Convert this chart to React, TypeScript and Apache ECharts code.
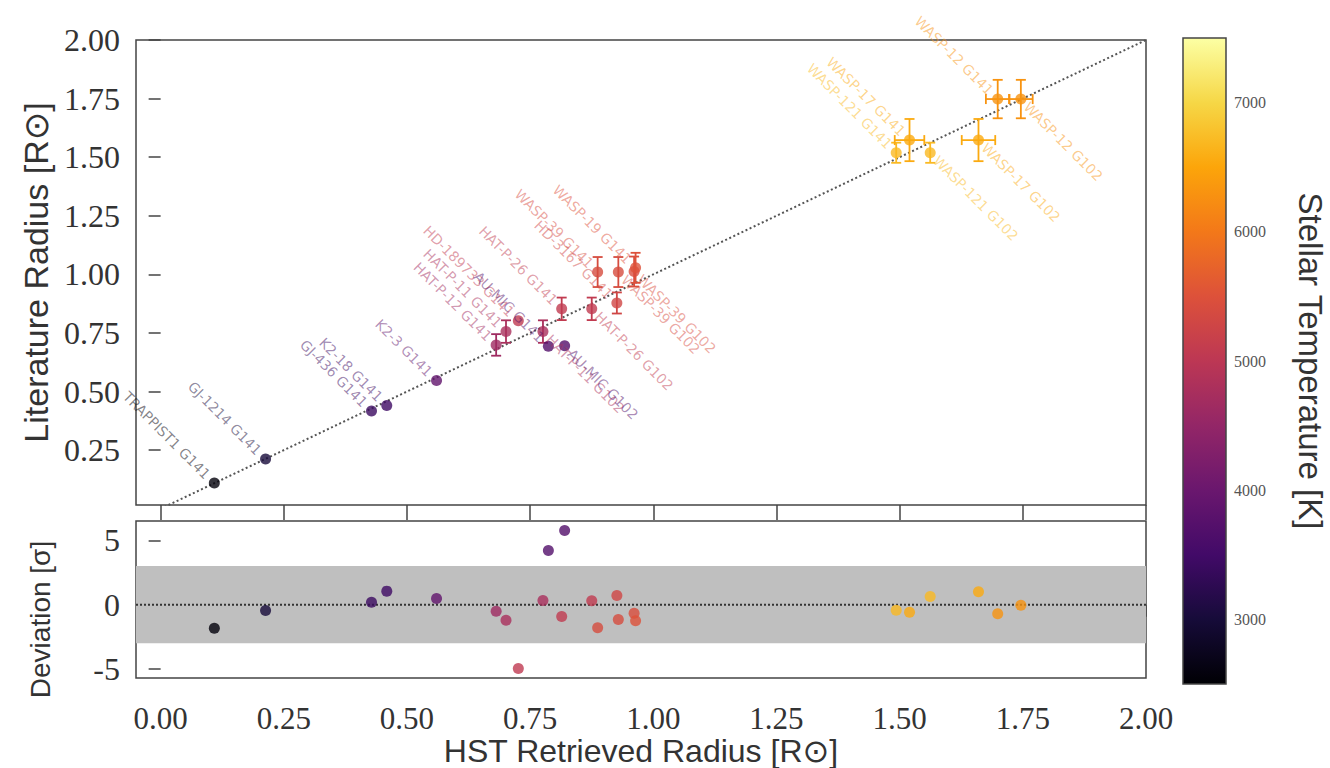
import React, { useEffect, useRef } from "react";
import * as echarts from "echarts";

// ---------------- data ----------------
const names = [
  "TRAPPIST1 G141", "GJ-1214 G141", "GJ-436 G141", "K2-18 G141", "K2-3 G141",
  "HAT-P-12 G141", "HAT-P-11 G141", "HD-189733 G141", "HAT-P-11 G102", "AU-MIC G141",
  "HAT-P-26 G141", "AU-MIC G102", "HAT-P-26 G102", "WASP-39 G141", "HD-3167 G141",
  "WASP-39 G102", "WASP-39 G102", "WASP-19 G141", "WASP-121 G141", "WASP-17 G141",
  "WASP-121 G102", "WASP-17 G102", "WASP-12 G141", "WASP-12 G102",
];
const hstRadius = [
  0.109, 0.213, 0.428, 0.459, 0.560,
  0.681, 0.701, 0.726, 0.776, 0.787,
  0.814, 0.820, 0.875, 0.887, 0.926,
  0.929, 0.961, 0.964, 1.493, 1.520,
  1.562, 1.660, 1.699, 1.746,
];
const litRadius = [
  0.110, 0.212, 0.417, 0.441, 0.547,
  0.699, 0.756, 0.802, 0.756, 0.693,
  0.853, 0.695, 0.853, 1.010, 0.878,
  1.010, 1.012, 1.028, 1.519, 1.573,
  1.519, 1.573, 1.748, 1.748,
];
const litErr = [
  0, 0, 0, 0, 0,
  0.046, 0.048, 0, 0.048, 0,
  0.048, 0, 0.048, 0.064, 0.045,
  0.064, 0.064, 0.064, 0.043, 0.09,
  0.043, 0.09, 0.082, 0.082,
];
const hstErr = [
  0, 0, 0, 0, 0,
  0, 0, 0, 0, 0,
  0, 0, 0, 0, 0,
  0, 0, 0, 0, 0.03,
  0, 0.034, 0.024, 0.024,
];
const deviation = [
  -1.84, -0.46, 0.18, 1.05, 0.48,
  -0.51, -1.22, -4.97, 0.33, 4.21,
  -0.92, 5.77, 0.31, -1.79, 0.71,
  -1.15, -0.66, -1.25, -0.43, -0.59,
  0.64, 1.0, -0.71, -0.05,
];
const stellarTemp = [
  2566, 3026, 3416, 3457, 3896,
  4650, 4780, 5050, 4780, 3700,
  5079, 3700, 5079, 5400, 5286,
  5400, 5450, 5500, 6700, 6550,
  6700, 6550, 6300, 6300,
];

const xTicks = [0, 0.25, 0.5, 0.75, 1.0, 1.25, 1.5, 1.75, 2.0];
const yTicks = [0.25, 0.5, 0.75, 1.0, 1.25, 1.5, 1.75, 2.0];
const devTicks = [-5, 0, 5];
const tempTicks = [3000, 4000, 5000, 6000, 7000];
const T_MIN = 2500;
const T_MAX = 7500;
const SIGMA_BAND = 3;

// ---------------- colormap ----------------
const INFERNO = [
  "#000004", "#160b39", "#420a68", "#6a176e", "#932667", "#bc3754",
  "#dd513a", "#f37819", "#fca50a", "#f6d746", "#fcffa4",
];
function hexRgb(h: string) {
  return [parseInt(h.slice(1, 3), 16), parseInt(h.slice(3, 5), 16), parseInt(h.slice(5, 7), 16)];
}
function inferno(t: number, a = 1) {
  const tt = Math.max(0, Math.min(1, t)) * (INFERNO.length - 1);
  const i = Math.min(INFERNO.length - 2, Math.floor(tt));
  const f = tt - i;
  const c0 = hexRgb(INFERNO[i]);
  const c1 = hexRgb(INFERNO[i + 1]);
  const c = c0.map((v, k) => Math.round(v + (c1[k] - v) * f));
  return `rgba(${c[0]},${c[1]},${c[2]},${a})`;
}
const tempColor = (T: number, a = 1) => inferno((T - T_MIN) / (T_MAX - T_MIN), a);

// ---------------- layout ----------------
const GL = 136;
const GW = 1010;
const TOP1 = 40;
const H1 = 465;
const TOP2 = 521;
const H2 = 157;
const CB = { x: 1183, y: 38, w: 43, h: 646 };
const AX = "#444";
const SERIF = "'Liberation Serif', serif";
const SANS = "'Liberation Sans', 'DejaVu Sans', sans-serif";

export default function App() {
  const ref = useRef<HTMLDivElement>(null);
  useEffect(() => {
    const chart = echarts.init(ref.current!, undefined, { renderer: "svg" });
    const colors = stellarTemp.map((t) => tempColor(t));

    const topPoints = hstRadius.map((x, i) => {
      const g102 = names[i].indexOf("G102") >= 0;
      return {
        value: [x, litRadius[i]],
        itemStyle: { color: colors[i] },
        label: {
          show: true,
          formatter: names[i],
          rotate: -45,
          align: g102 ? "left" : "right",
          verticalAlign: "middle",
          position: g102 ? [5 + 6, 5 + 6] : [5 - 6, 5 - 6],
          color: tempColor(stellarTemp[i], 0.62),
          fontSize: 14,
          fontFamily: "'DejaVu Sans', sans-serif",
        },
      };
    });
    const devPoints = hstRadius.map((x, i) => ({
      value: [x, deviation[i]],
      itemStyle: { color: colors[i] },
    }));
    const errData = hstRadius.map((x, i) => [x, litRadius[i], litErr[i], hstErr[i]]);

    const tickStyle = { color: AX, width: 1.5 };
    const option: any = {
      animation: false,
      backgroundColor: "#fff",
      grid: [
        { left: GL, top: TOP1, width: GW, height: H1, show: true, borderColor: AX, borderWidth: 1.5, backgroundColor: "transparent" },
        { left: GL, top: TOP2, width: GW, height: H2, show: true, borderColor: AX, borderWidth: 1.5, backgroundColor: "transparent" },
        { left: CB.x, top: CB.y, width: CB.w, height: CB.h, show: false },
      ],
      xAxis: [
        {
          gridIndex: 0, type: "value", min: -0.05, max: 2.0,
          axisLine: { show: false }, splitLine: { show: false },
          axisTick: { show: true, customValues: xTicks, length: 15, lineStyle: tickStyle },
          axisLabel: { show: false },
        },
        {
          gridIndex: 1, type: "value", min: -0.05, max: 2.0,
          axisLine: { show: false }, splitLine: { show: false },
          axisTick: { show: true, customValues: xTicks, length: 12, lineStyle: tickStyle },
          axisLabel: {
            customValues: xTicks, formatter: (v: number) => v.toFixed(2),
            fontSize: 31, fontFamily: SERIF, color: "#333", margin: 25,
          },
          name: "HST Retrieved Radius [R⊙]", nameLocation: "middle", nameGap: 56,
          nameTextStyle: { fontSize: 32, fontFamily: SANS, color: "#333" },
        },
        { gridIndex: 2, type: "value", min: 0, max: 1, show: false },
      ],
      yAxis: [
        {
          gridIndex: 0, type: "value", min: 0.016, max: 2.0,
          axisLine: { show: false }, splitLine: { show: false },
          axisTick: { show: true, customValues: yTicks, length: 12, lineStyle: tickStyle },
          axisLabel: {
            customValues: yTicks, formatter: (v: number) => v.toFixed(2),
            fontSize: 32, fontFamily: SERIF, color: "#333", margin: 16,
          },
          name: "Literature Radius [R⊙]", nameLocation: "middle", nameGap: 82,
          nameTextStyle: { fontSize: 34, fontFamily: SANS, color: "#333" },
        },
        {
          gridIndex: 1, type: "value", min: -5.7, max: 6.5,
          axisLine: { show: false }, splitLine: { show: false },
          axisTick: { show: true, customValues: devTicks, length: 12, lineStyle: tickStyle },
          axisLabel: {
            customValues: devTicks, fontSize: 32, fontFamily: SERIF, color: "#333", margin: 16,
          },
          name: "Deviation [σ]", nameLocation: "middle", nameGap: 82,
          nameTextStyle: { fontSize: 28, fontFamily: SANS, color: "#333", padding: [0, 40, 0, 0] },
        },
        {
          gridIndex: 2, type: "value", min: T_MIN, max: T_MAX, position: "right",
          axisLine: { show: false }, splitLine: { show: false },
          axisTick: { show: true, customValues: tempTicks, length: 10, lineStyle: { color: AX, width: 1.2 } },
          axisLabel: {
            customValues: tempTicks, formatter: (v: number) => String(v),
            fontSize: 16, fontFamily: SERIF, color: "#555", margin: 8,
          },
          name: "Stellar Temperature [K]", nameLocation: "middle", nameGap: 68, nameRotate: -90,
          nameTextStyle: { fontSize: 33, fontFamily: SANS, color: "#333" },
        },
      ],
      graphic: [
        {
          type: "rect", z: 10,
          shape: { x: CB.x, y: CB.y, width: CB.w, height: CB.h },
          style: {
            fill: {
              type: "linear", x: 0, y: 1, x2: 0, y2: 0,
              colorStops: INFERNO.map((c, i) => ({ offset: i / (INFERNO.length - 1), color: c })),
            },
            stroke: AX, lineWidth: 1.5,
          },
        },
      ],
      series: [
        {
          type: "line", xAxisIndex: 0, yAxisIndex: 0, data: [[-0.05, -0.05], [2, 2]],
          symbol: "none", clip: true, z: 1, silent: true,
          lineStyle: { color: "#555", width: 2, type: [2, 2.5] },
        },
        {
          type: "custom", coordinateSystem: "cartesian2d", xAxisIndex: 0, yAxisIndex: 0, z: 2,
          data: errData, encode: { x: 0, y: 1 }, silent: true,
          renderItem: (params: any, api: any) => {
            const i = params.dataIndex;
            const x = api.value(0), y = api.value(1), ye = api.value(2), xe = api.value(3);
            const col = colors[i];
            const st = { stroke: col, lineWidth: 1.8 };
            const ch: any[] = [];
            const cap = 5;
            if (ye > 0) {
              const a = api.coord([x, y - ye]);
              const b = api.coord([x, y + ye]);
              ch.push({ type: "line", shape: { x1: a[0], y1: a[1], x2: b[0], y2: b[1] }, style: st });
              ch.push({ type: "line", shape: { x1: a[0] - cap, y1: a[1], x2: a[0] + cap, y2: a[1] }, style: st });
              ch.push({ type: "line", shape: { x1: b[0] - cap, y1: b[1], x2: b[0] + cap, y2: b[1] }, style: st });
            }
            if (xe > 0) {
              const a = api.coord([x - xe, y]);
              const b = api.coord([x + xe, y]);
              ch.push({ type: "line", shape: { x1: a[0], y1: a[1], x2: b[0], y2: b[1] }, style: st });
              ch.push({ type: "line", shape: { x1: a[0], y1: a[1] - cap, x2: a[0], y2: a[1] + cap }, style: st });
              ch.push({ type: "line", shape: { x1: b[0], y1: b[1] - cap, x2: b[0], y2: b[1] + cap }, style: st });
            }
            return { type: "group", children: ch };
          },
        },
        {
          type: "scatter", xAxisIndex: 0, yAxisIndex: 0, z: 3, symbolSize: 11,
          data: topPoints, labelLayout: { hideOverlap: false },
        },
        {
          type: "line", xAxisIndex: 1, yAxisIndex: 1, data: [[-0.05, 0], [2, 0]],
          symbol: "none", z: 2, silent: true,
          lineStyle: { color: "#333", width: 2, type: [2, 2] },
          markArea: {
            silent: true,
            itemStyle: { color: "#bfbfbf", opacity: 1 },
            data: [[{ yAxis: -SIGMA_BAND }, { yAxis: SIGMA_BAND }]],
          },
        },
        {
          type: "scatter", xAxisIndex: 1, yAxisIndex: 1, z: 4, symbolSize: 11,
          data: devPoints,
        },
      ],
    };
    chart.setOption(option);
    return () => chart.dispose();
  }, []);
  return (
    <div
      ref={ref}
      style={{ position: "absolute", left: 0, top: 0, width: 1330, height: 768, background: "#fff" }}
    />
  );
}
